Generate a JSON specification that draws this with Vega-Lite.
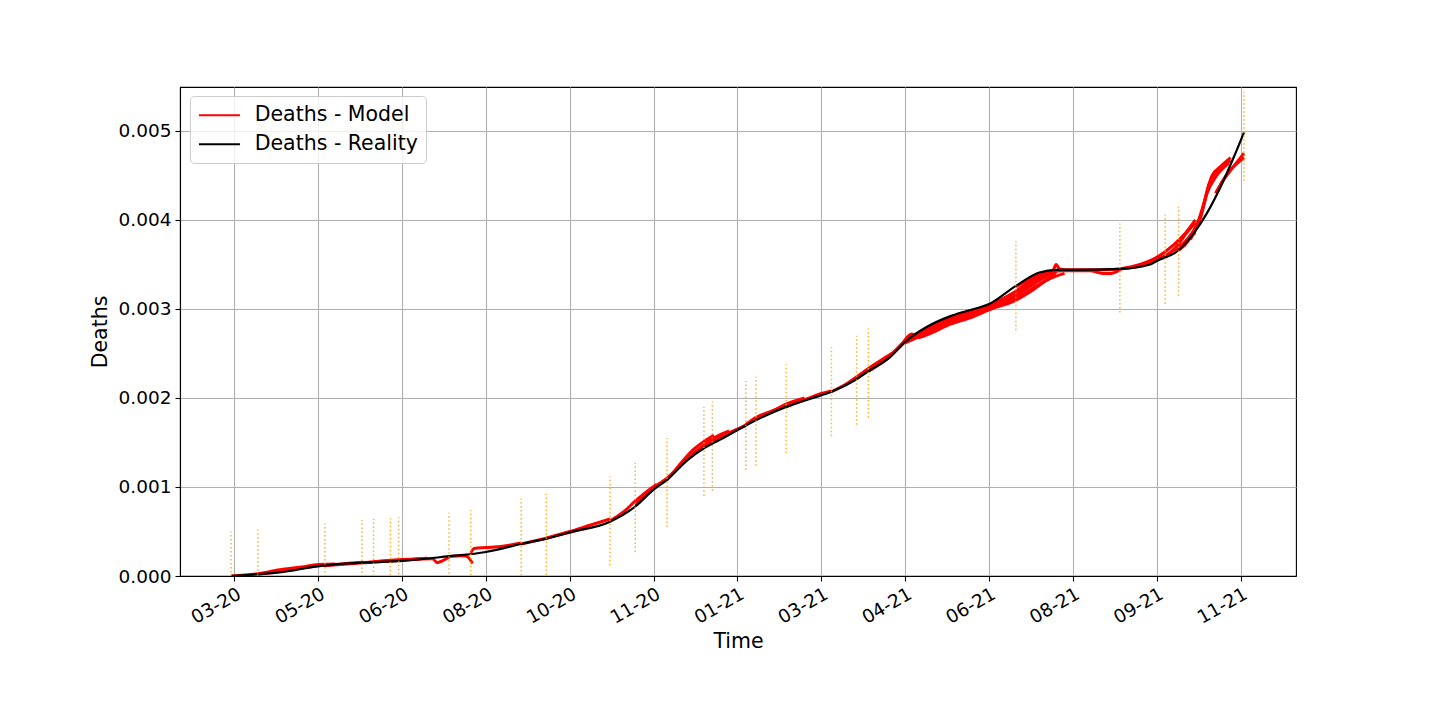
{
  "$schema": "https://vega.github.io/schema/vega-lite/v6.json",
  "width": 1116,
  "height": 489,
  "autosize": {"type": "none"},
  "padding": {"left": 180, "top": 87, "right": 144, "bottom": 144},
  "background": "white",
  "config": {
    "font": "DejaVu Sans",
    "view": {"stroke": "black", "strokeWidth": 1.1},
    "axis": {
      "labelFontSize": 18.5, "titleFontSize": 20.5, "titleFontWeight": "normal",
      "labelColor": "black", "titleColor": "black", "tickColor": "black",
      "domainColor": "black", "domainWidth": 1.1, "tickWidth": 1.1, "tickSize": 5,
      "gridColor": "#b0b0b0", "gridWidth": 1.1, "labelFont": "DejaVu Sans", "titleFont": "DejaVu Sans"
    },
    "legend": {"labelFont": "DejaVu Sans"}
  },
  "datasets": {
    "model": [
      {"run": "A", "date": "2020-03-18", "v": 0},
      {"run": "A", "date": "2020-04-03", "v": 0.000025},
      {"run": "A", "date": "2020-04-16", "v": 0.00007},
      {"run": "A", "date": "2020-04-29", "v": 0.0001},
      {"run": "A", "date": "2020-05-09", "v": 0.00013},
      {"run": "A", "date": "2020-05-19", "v": 0.000135},
      {"run": "B", "date": "2020-04-03", "v": 0.00002},
      {"run": "B", "date": "2020-04-16", "v": 0.00005},
      {"run": "B", "date": "2020-04-29", "v": 0.00009},
      {"run": "B", "date": "2020-05-13", "v": 0.00012},
      {"run": "B", "date": "2020-06-05", "v": 0.000155},
      {"run": "C", "date": "2020-05-13", "v": 0.000115},
      {"run": "C", "date": "2020-06-05", "v": 0.00015},
      {"run": "C", "date": "2020-06-26", "v": 0.000175},
      {"run": "D", "date": "2020-06-04", "v": 0.00015},
      {"run": "D", "date": "2020-06-21", "v": 0.000172},
      {"run": "D", "date": "2020-07-08", "v": 0.00019},
      {"run": "E", "date": "2020-06-11", "v": 0.00016},
      {"run": "E", "date": "2020-06-26", "v": 0.000182},
      {"run": "E", "date": "2020-07-13", "v": 0.0002},
      {"run": "G", "date": "2020-06-26", "v": 0.000172},
      {"run": "G", "date": "2020-07-08", "v": 0.000188},
      {"run": "G", "date": "2020-07-16", "v": 0.000195},
      {"run": "G", "date": "2020-07-19", "v": 0.00015},
      {"run": "G", "date": "2020-07-22", "v": 0.00017},
      {"run": "G", "date": "2020-07-26", "v": 0.00021},
      {"run": "H", "date": "2020-07-26", "v": 0.00022},
      {"run": "H", "date": "2020-08-02", "v": 0.000228},
      {"run": "H", "date": "2020-08-05", "v": 0.000225},
      {"run": "H", "date": "2020-08-07", "v": 0.0002},
      {"run": "H", "date": "2020-08-09", "v": 0.00014},
      {"run": "I", "date": "2020-08-08", "v": 0.00026},
      {"run": "I", "date": "2020-08-10", "v": 0.00031},
      {"run": "I", "date": "2020-08-17", "v": 0.00032},
      {"run": "I", "date": "2020-08-27", "v": 0.000335},
      {"run": "I", "date": "2020-09-07", "v": 0.00037},
      {"run": "J", "date": "2020-09-07", "v": 0.00036},
      {"run": "J", "date": "2020-09-22", "v": 0.000425},
      {"run": "J", "date": "2020-10-06", "v": 0.00049},
      {"run": "J", "date": "2020-10-16", "v": 0.00054},
      {"run": "K", "date": "2020-09-22", "v": 0.000425},
      {"run": "K", "date": "2020-10-06", "v": 0.0005},
      {"run": "K", "date": "2020-10-18", "v": 0.00057},
      {"run": "K", "date": "2020-10-30", "v": 0.00064},
      {"run": "L", "date": "2020-10-30", "v": 0.00062},
      {"run": "L", "date": "2020-11-07", "v": 0.00072},
      {"run": "L", "date": "2020-11-14", "v": 0.00084},
      {"run": "L", "date": "2020-11-21", "v": 0.00095},
      {"run": "L", "date": "2020-11-27", "v": 0.00103},
      {"run": "M", "date": "2020-11-14", "v": 0.0008},
      {"run": "M", "date": "2020-11-21", "v": 0.00092},
      {"run": "M", "date": "2020-11-27", "v": 0.00102},
      {"run": "M", "date": "2020-12-03", "v": 0.0011},
      {"run": "M", "date": "2020-12-09", "v": 0.0012},
      {"run": "N", "date": "2020-12-03", "v": 0.00108},
      {"run": "N", "date": "2020-12-10", "v": 0.00124},
      {"run": "N", "date": "2020-12-17", "v": 0.00139},
      {"run": "N", "date": "2020-12-25", "v": 0.00151},
      {"run": "N", "date": "2020-12-31", "v": 0.00158},
      {"run": "N2", "date": "2020-12-10", "v": 0.00122},
      {"run": "N2", "date": "2020-12-17", "v": 0.00135},
      {"run": "N2", "date": "2020-12-25", "v": 0.00147},
      {"run": "N2", "date": "2020-12-31", "v": 0.00155},
      {"run": "N2", "date": "2021-01-09", "v": 0.00163},
      {"run": "O", "date": "2020-12-25", "v": 0.00145},
      {"run": "O", "date": "2020-12-31", "v": 0.00153},
      {"run": "O", "date": "2021-01-09", "v": 0.00161},
      {"run": "O", "date": "2021-01-19", "v": 0.00169},
      {"run": "P", "date": "2020-12-30", "v": 0.0015},
      {"run": "P", "date": "2021-01-09", "v": 0.0016},
      {"run": "P", "date": "2021-01-19", "v": 0.0017},
      {"run": "P", "date": "2021-01-25", "v": 0.00178},
      {"run": "Q", "date": "2021-01-19", "v": 0.0017},
      {"run": "Q", "date": "2021-01-25", "v": 0.00178},
      {"run": "Q", "date": "2021-02-03", "v": 0.00185},
      {"run": "Q", "date": "2021-02-12", "v": 0.00192},
      {"run": "R", "date": "2021-01-25", "v": 0.00176},
      {"run": "R", "date": "2021-02-03", "v": 0.00184},
      {"run": "R", "date": "2021-02-12", "v": 0.00193},
      {"run": "R", "date": "2021-02-23", "v": 0.002},
      {"run": "S", "date": "2021-02-12", "v": 0.0019},
      {"run": "S", "date": "2021-02-23", "v": 0.00198},
      {"run": "S", "date": "2021-03-05", "v": 0.00205},
      {"run": "S", "date": "2021-03-11", "v": 0.00208},
      {"run": "T", "date": "2021-03-11", "v": 0.00207},
      {"run": "T", "date": "2021-03-20", "v": 0.00216},
      {"run": "T", "date": "2021-03-27", "v": 0.00225},
      {"run": "T", "date": "2021-04-02", "v": 0.00233},
      {"run": "U", "date": "2021-03-26", "v": 0.00223},
      {"run": "U", "date": "2021-04-02", "v": 0.00233},
      {"run": "U", "date": "2021-04-10", "v": 0.00243},
      {"run": "U", "date": "2021-04-16", "v": 0.0025},
      {"run": "V2", "date": "2021-03-26", "v": 0.00222},
      {"run": "V2", "date": "2021-04-04", "v": 0.00235},
      {"run": "V2", "date": "2021-04-14", "v": 0.00247},
      {"run": "V2", "date": "2021-04-21", "v": 0.00258},
      {"run": "V2", "date": "2021-04-25", "v": 0.00268},
      {"run": "V2", "date": "2021-04-28", "v": 0.00272},
      {"run": "V2", "date": "2021-05-02", "v": 0.00268},
      {"run": "V2", "date": "2021-05-07", "v": 0.00271},
      {"run": "V2", "date": "2021-05-21", "v": 0.00283},
      {"run": "V2", "date": "2021-06-03", "v": 0.00291},
      {"run": "V2", "date": "2021-06-13", "v": 0.00299},
      {"run": "V2", "date": "2021-06-29", "v": 0.0031},
      {"run": "V2", "date": "2021-07-08", "v": 0.0032},
      {"run": "V2", "date": "2021-07-18", "v": 0.00333},
      {"run": "V2", "date": "2021-07-28", "v": 0.0034},
      {"run": "V", "date": "2021-04-02", "v": 0.0023},
      {"run": "V", "date": "2021-04-14", "v": 0.00245},
      {"run": "V", "date": "2021-04-24", "v": 0.00263},
      {"run": "V", "date": "2021-05-01", "v": 0.00269},
      {"run": "V", "date": "2021-05-07", "v": 0.00276},
      {"run": "V", "date": "2021-05-21", "v": 0.00287},
      {"run": "V", "date": "2021-06-03", "v": 0.00295},
      {"run": "V", "date": "2021-06-13", "v": 0.00302},
      {"run": "V", "date": "2021-06-29", "v": 0.00315},
      {"run": "V", "date": "2021-07-13", "v": 0.00332},
      {"run": "V", "date": "2021-07-23", "v": 0.00341},
      {"run": "V3", "date": "2021-04-02", "v": 0.0023},
      {"run": "V3", "date": "2021-04-14", "v": 0.00246},
      {"run": "V3", "date": "2021-04-24", "v": 0.00264},
      {"run": "V3", "date": "2021-05-07", "v": 0.00278},
      {"run": "V3", "date": "2021-05-21", "v": 0.0029},
      {"run": "V3", "date": "2021-06-13", "v": 0.00304},
      {"run": "V3", "date": "2021-06-29", "v": 0.0032},
      {"run": "V3", "date": "2021-07-13", "v": 0.00337},
      {"run": "V4", "date": "2021-04-24", "v": 0.00262},
      {"run": "V4", "date": "2021-05-07", "v": 0.00273},
      {"run": "V4", "date": "2021-05-21", "v": 0.00285},
      {"run": "V4", "date": "2021-06-13", "v": 0.003},
      {"run": "V4", "date": "2021-06-29", "v": 0.00312},
      {"run": "V4", "date": "2021-07-13", "v": 0.00328},
      {"run": "V4", "date": "2021-07-23", "v": 0.00338},
      {"run": "V5", "date": "2021-05-07", "v": 0.00274},
      {"run": "V5", "date": "2021-05-21", "v": 0.00289},
      {"run": "V5", "date": "2021-06-13", "v": 0.00303},
      {"run": "V5", "date": "2021-06-29", "v": 0.00318},
      {"run": "V5", "date": "2021-07-13", "v": 0.00335},
      {"run": "V5", "date": "2021-07-23", "v": 0.00342},
      {"run": "W", "date": "2021-06-29", "v": 0.00325},
      {"run": "W", "date": "2021-07-08", "v": 0.00334},
      {"run": "W", "date": "2021-07-15", "v": 0.0034},
      {"run": "W", "date": "2021-07-21", "v": 0.00343},
      {"run": "W", "date": "2021-07-23", "v": 0.0035},
      {"run": "W", "date": "2021-07-25", "v": 0.00345},
      {"run": "W", "date": "2021-08-02", "v": 0.00344},
      {"run": "W", "date": "2021-08-17", "v": 0.00344},
      {"run": "W", "date": "2021-08-30", "v": 0.00345},
      {"run": "X", "date": "2021-06-29", "v": 0.0032},
      {"run": "X", "date": "2021-07-13", "v": 0.00337},
      {"run": "X", "date": "2021-07-28", "v": 0.00343},
      {"run": "X", "date": "2021-08-12", "v": 0.00343},
      {"run": "X", "date": "2021-08-20", "v": 0.0034},
      {"run": "X", "date": "2021-08-25", "v": 0.0034},
      {"run": "X", "date": "2021-08-30", "v": 0.00344},
      {"run": "Y", "date": "2021-08-30", "v": 0.00345},
      {"run": "Y", "date": "2021-09-11", "v": 0.0035},
      {"run": "Y", "date": "2021-09-21", "v": 0.00358},
      {"run": "Y", "date": "2021-10-01", "v": 0.00372},
      {"run": "Y", "date": "2021-10-08", "v": 0.00385},
      {"run": "Y", "date": "2021-10-14", "v": 0.004},
      {"run": "Y2", "date": "2021-08-30", "v": 0.00345},
      {"run": "Y2", "date": "2021-09-16", "v": 0.00351},
      {"run": "Y2", "date": "2021-09-26", "v": 0.0036},
      {"run": "Y2", "date": "2021-10-06", "v": 0.00372},
      {"run": "Y2", "date": "2021-10-14", "v": 0.00386},
      {"run": "Z", "date": "2021-09-26", "v": 0.00358},
      {"run": "Z", "date": "2021-10-04", "v": 0.00373},
      {"run": "Z", "date": "2021-10-09", "v": 0.00386},
      {"run": "Z", "date": "2021-10-14", "v": 0.00397},
      {"run": "Z2", "date": "2021-10-04", "v": 0.00367},
      {"run": "Z2", "date": "2021-10-09", "v": 0.00378},
      {"run": "Z2", "date": "2021-10-14", "v": 0.0039},
      {"run": "AA", "date": "2021-10-04", "v": 0.00366},
      {"run": "AA", "date": "2021-10-11", "v": 0.0038},
      {"run": "AA", "date": "2021-10-16", "v": 0.004},
      {"run": "AA", "date": "2021-10-20", "v": 0.00425},
      {"run": "AA", "date": "2021-10-24", "v": 0.0045},
      {"run": "AA", "date": "2021-10-29", "v": 0.0046},
      {"run": "AA", "date": "2021-11-04", "v": 0.0047},
      {"run": "AB", "date": "2021-10-07", "v": 0.0037},
      {"run": "AB", "date": "2021-10-13", "v": 0.00388},
      {"run": "AB", "date": "2021-10-18", "v": 0.0041},
      {"run": "AB", "date": "2021-10-22", "v": 0.0044},
      {"run": "AB", "date": "2021-10-27", "v": 0.00455},
      {"run": "AB", "date": "2021-11-04", "v": 0.00467},
      {"run": "AC", "date": "2021-10-11", "v": 0.00378},
      {"run": "AC", "date": "2021-10-17", "v": 0.00402},
      {"run": "AC", "date": "2021-10-21", "v": 0.0043},
      {"run": "AC", "date": "2021-10-26", "v": 0.00448},
      {"run": "AC", "date": "2021-11-03", "v": 0.00464},
      {"run": "AD", "date": "2021-10-26", "v": 0.0043},
      {"run": "AD", "date": "2021-11-01", "v": 0.00449},
      {"run": "AD", "date": "2021-11-07", "v": 0.00463},
      {"run": "AD", "date": "2021-11-12", "v": 0.00475},
      {"run": "AE", "date": "2021-10-29", "v": 0.0044},
      {"run": "AE", "date": "2021-11-05", "v": 0.00458},
      {"run": "AE", "date": "2021-11-12", "v": 0.0047}
    ],
    "reality": [
      {"date": "2020-03-18", "v": 0},
      {"date": "2020-04-03", "v": 0.00002},
      {"date": "2020-04-16", "v": 0.00004},
      {"date": "2020-05-09", "v": 0.00011},
      {"date": "2020-06-05", "v": 0.00015},
      {"date": "2020-06-28", "v": 0.00017},
      {"date": "2020-07-25", "v": 0.00022},
      {"date": "2020-08-17", "v": 0.00027},
      {"date": "2020-09-07", "v": 0.00036},
      {"date": "2020-09-22", "v": 0.00042},
      {"date": "2020-10-06", "v": 0.00049},
      {"date": "2020-10-30", "v": 0.00061},
      {"date": "2020-11-14", "v": 0.00078},
      {"date": "2020-11-25", "v": 0.00097},
      {"date": "2020-12-03", "v": 0.00108},
      {"date": "2020-12-15", "v": 0.0013},
      {"date": "2020-12-25", "v": 0.001435},
      {"date": "2021-01-04", "v": 0.001535},
      {"date": "2021-01-14", "v": 0.00164},
      {"date": "2021-01-25", "v": 0.00175},
      {"date": "2021-02-12", "v": 0.0019},
      {"date": "2021-02-28", "v": 0.002},
      {"date": "2021-03-11", "v": 0.00207},
      {"date": "2021-03-25", "v": 0.0022},
      {"date": "2021-04-02", "v": 0.0023},
      {"date": "2021-04-15", "v": 0.00246},
      {"date": "2021-04-24", "v": 0.00263},
      {"date": "2021-05-07", "v": 0.0028},
      {"date": "2021-05-21", "v": 0.00292},
      {"date": "2021-05-31", "v": 0.00298},
      {"date": "2021-06-13", "v": 0.003055},
      {"date": "2021-06-29", "v": 0.00326},
      {"date": "2021-07-13", "v": 0.00341},
      {"date": "2021-07-23", "v": 0.00344},
      {"date": "2021-08-02", "v": 0.00344},
      {"date": "2021-08-30", "v": 0.00345},
      {"date": "2021-09-17", "v": 0.0035},
      {"date": "2021-09-21", "v": 0.00354},
      {"date": "2021-10-04", "v": 0.00366},
      {"date": "2021-10-13", "v": 0.00385},
      {"date": "2021-10-21", "v": 0.00408},
      {"date": "2021-10-29", "v": 0.00437},
      {"date": "2021-11-06", "v": 0.00471},
      {"date": "2021-11-12", "v": 0.004985}
    ],
    "bounds": [
      {"date": "2020-03-18", "lo": -0.0005, "hi": 0.0005},
      {"date": "2020-04-03", "lo": -0.00048, "hi": 0.00052},
      {"date": "2020-05-13", "lo": -0.00041, "hi": 0.00059},
      {"date": "2020-06-04", "lo": -0.00037, "hi": 0.00063},
      {"date": "2020-06-11", "lo": -0.00036, "hi": 0.00064},
      {"date": "2020-06-21", "lo": -0.00035, "hi": 0.00065},
      {"date": "2020-06-26", "lo": -0.00034, "hi": 0.00066},
      {"date": "2020-07-26", "lo": -0.00029, "hi": 0.00071},
      {"date": "2020-08-08", "lo": -0.00026, "hi": 0.00074},
      {"date": "2020-09-07", "lo": -0.00013, "hi": 0.00087},
      {"date": "2020-09-22", "lo": -0.00008, "hi": 0.00092},
      {"date": "2020-10-30", "lo": 0.00012, "hi": 0.00112},
      {"date": "2020-11-14", "lo": 0.00027, "hi": 0.00127},
      {"date": "2020-12-03", "lo": 0.00055, "hi": 0.00155},
      {"date": "2020-12-25", "lo": 0.0009, "hi": 0.0019},
      {"date": "2020-12-30", "lo": 0.00096, "hi": 0.00196},
      {"date": "2021-01-19", "lo": 0.00119, "hi": 0.00219},
      {"date": "2021-01-25", "lo": 0.00124, "hi": 0.00224},
      {"date": "2021-02-12", "lo": 0.00138, "hi": 0.00238},
      {"date": "2021-03-11", "lo": 0.00157, "hi": 0.00257},
      {"date": "2021-03-26", "lo": 0.0017, "hi": 0.0027},
      {"date": "2021-04-02", "lo": 0.00178, "hi": 0.00278},
      {"date": "2021-06-29", "lo": 0.00276, "hi": 0.00376},
      {"date": "2021-08-30", "lo": 0.00296, "hi": 0.00396},
      {"date": "2021-09-26", "lo": 0.00306, "hi": 0.00406},
      {"date": "2021-10-04", "lo": 0.00315, "hi": 0.00415},
      {"date": "2021-11-12", "lo": 0.00444, "hi": 0.00544}
    ]
  },
  "encoding": {
    "x": {
      "field": "date", "type": "temporal", "title": "Time",
      "scale": {
        "type": "utc",
        "domain": [
          {"year": 2020, "month": 2, "date": 16, "hours": 14, "minutes": 24, "utc": true},
          {"year": 2021, "month": 12, "date": 13, "utc": true}
        ]
      },
      "axis": {
        "labelExpr": "utcFormat(datum.value, '%m-%y')",
        "values": [
          {"year": 2020, "month": 3, "date": 20, "utc": true},
          {"year": 2020, "month": 5, "date": 9, "utc": true},
          {"year": 2020, "month": 6, "date": 28, "utc": true},
          {"year": 2020, "month": 8, "date": 17, "utc": true},
          {"year": 2020, "month": 10, "date": 6, "utc": true},
          {"year": 2020, "month": 11, "date": 25, "utc": true},
          {"year": 2021, "month": 1, "date": 14, "utc": true},
          {"year": 2021, "month": 3, "date": 5, "utc": true},
          {"year": 2021, "month": 4, "date": 24, "utc": true},
          {"year": 2021, "month": 6, "date": 13, "utc": true},
          {"year": 2021, "month": 8, "date": 2, "utc": true},
          {"year": 2021, "month": 9, "date": 21, "utc": true},
          {"year": 2021, "month": 11, "date": 10, "utc": true}
        ],
        "labelAngle": -30, "labelAlign": "right", "labelBaseline": "top",
        "labelPadding": 3, "titlePadding": 5, "grid": true, "labelFlush": false, "labelOverlap": false
      }
    }
  },
  "layer": [
    {
      "data": {"name": "model"},
      "transform": [{"calculate": "'Deaths - Model'", "as": "series"}],
      "mark": {"type": "line", "strokeWidth": 3, "interpolate": "monotone", "clip": true},
      "encoding": {
        "y": {
          "field": "v", "type": "quantitative", "title": "Deaths",
          "scale": {"domain": [0, 0.005494], "nice": false, "zero": false},
          "axis": {"values": [0, 0.001, 0.002, 0.003, 0.004, 0.005], "format": ".3f", "labelPadding": 4, "titlePadding": 8, "grid": true}
        },
        "detail": {"field": "run", "type": "nominal"},
        "color": {
          "field": "series", "type": "nominal",
          "scale": {"domain": ["Deaths - Model", "Deaths - Reality"], "range": ["#ff0000", "#000000"]},
          "legend": {
            "title": null, "orient": "none", "legendX": 10, "legendY": 9,
            "symbolType": "M-1,0H3", "symbolSize": 420, "symbolStrokeWidth": 2,
            "labelFontSize": 20.5, "labelColor": "black", "labelOffset": 34, "labelLimit": 400,
            "rowPadding": 7, "padding": 7.7,
            "fillColor": "rgba(255,255,255,0.8)", "strokeColor": "#cccccc", "cornerRadius": 4
          }
        }
      }
    },
    {
      "data": {"name": "reality"},
      "transform": [{"calculate": "'Deaths - Reality'", "as": "series"}],
      "mark": {"type": "line", "strokeWidth": 2.2, "interpolate": "monotone", "clip": true},
      "encoding": {
        "y": {"field": "v", "type": "quantitative"},
        "color": {"field": "series", "type": "nominal"}
      }
    },
    {
      "data": {"name": "bounds"},
      "mark": {"type": "rule", "color": "#ffa500", "opacity": 0.85, "strokeWidth": 1.5, "strokeDash": [1.5, 2.5], "clip": true},
      "encoding": {
        "y": {"field": "lo", "type": "quantitative"},
        "y2": {"field": "hi"}
      }
    }
  ]
}
